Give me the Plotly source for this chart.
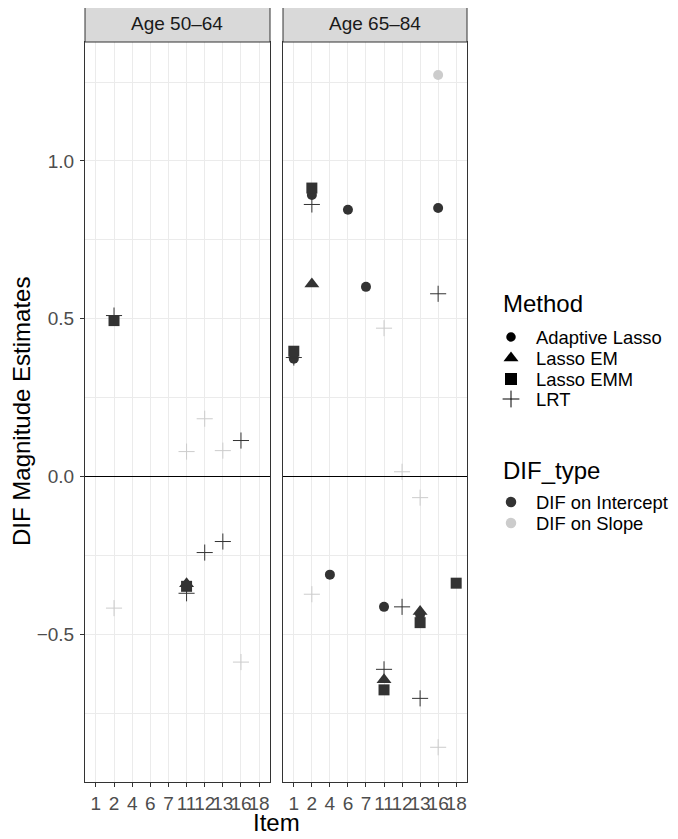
import plotly.graph_objects as go

# ---------------- data ----------------
items = ["1", "2", "4", "6", "7", "11", "12", "13", "16", "18"]
panels = ["Age 50\u201364", "Age 65\u201384"]
methods = ["Adaptive Lasso", "Lasso EM", "Lasso EMM", "LRT"]
dif_types = ["DIF on Intercept", "DIF on Slope"]

# Age 50-64
p1_item = ["2", "2", "11", "12", "13", "16", "2", "11", "11", "11", "12", "13", "16"]
p1_method = ["Lasso EMM", "LRT", "LRT", "LRT", "LRT", "LRT", "LRT",
             "Lasso EM", "Lasso EMM", "LRT", "LRT", "LRT", "LRT"]
p1_type = ["DIF on Intercept", "DIF on Intercept", "DIF on Slope", "DIF on Slope",
           "DIF on Slope", "DIF on Intercept", "DIF on Slope", "DIF on Intercept",
           "DIF on Intercept", "DIF on Intercept", "DIF on Intercept",
           "DIF on Intercept", "DIF on Slope"]
p1_value = [0.494, 0.51, 0.079, 0.183, 0.082, 0.114, -0.417, -0.34, -0.348,
            -0.37, -0.241, -0.206, -0.588]

# Age 65-84
p2_item = ["16", "2", "2", "2", "6", "16", "2", "7", "16", "11", "1", "1", "1",
           "12", "13", "2", "4", "11", "12", "13", "13", "13", "18", "11", "11",
           "11", "13", "16"]
p2_method = ["Adaptive Lasso", "Adaptive Lasso", "Lasso EMM", "LRT", "Adaptive Lasso",
             "Adaptive Lasso", "Lasso EM", "Adaptive Lasso", "LRT", "LRT",
             "Adaptive Lasso", "Lasso EMM", "LRT", "LRT", "LRT", "LRT",
             "Adaptive Lasso", "Adaptive Lasso", "LRT", "Adaptive Lasso", "Lasso EM",
             "Lasso EMM", "Lasso EMM", "LRT", "Lasso EM", "Lasso EMM", "LRT", "LRT"]
p2_type = ["DIF on Slope", "DIF on Intercept", "DIF on Intercept", "DIF on Intercept",
           "DIF on Intercept", "DIF on Intercept", "DIF on Intercept",
           "DIF on Intercept", "DIF on Intercept", "DIF on Slope",
           "DIF on Intercept", "DIF on Intercept", "DIF on Intercept",
           "DIF on Slope", "DIF on Slope", "DIF on Slope", "DIF on Intercept",
           "DIF on Intercept", "DIF on Intercept", "DIF on Intercept",
           "DIF on Intercept", "DIF on Intercept", "DIF on Intercept",
           "DIF on Intercept", "DIF on Intercept", "DIF on Intercept",
           "DIF on Intercept", "DIF on Slope"]
p2_value = [1.272, 0.892, 0.914, 0.862, 0.845, 0.851, 0.61, 0.601, 0.579, 0.47,
            0.373, 0.397, 0.377, 0.015, -0.067, -0.373, -0.311, -0.413, -0.413,
            -0.437, -0.428, -0.463, -0.338, -0.611, -0.644, -0.676, -0.703, -0.858]

y_tickvals = [-0.5, 0.0, 0.5, 1.0]
y_ticktext = ["\u22120.5", "0.0", "0.5", "1.0"]
y_minor = [-0.75, -0.25, 0.25, 0.75, 1.25]

# ---------------- styles ----------------
FONT = "Liberation Sans, Arial, sans-serif"
SMALL = 19
LEGEND_TXT = 18.4
TITLE = 24
type_color = {"DIF on Intercept": "#333333", "DIF on Slope": "#CCCCCC"}
method_symbol = {"Adaptive Lasso": "circle", "Lasso EM": "triangle-up",
                 "Lasso EMM": "square", "LRT": "cross-thin-open"}
method_size = {"Adaptive Lasso": 10, "Lasso EM": 13, "Lasso EMM": 11, "LRT": 11.5}

# page body has an 8px margin; positions below are given in screen pixels
OFF = 8
W, H = 670, 831
px = lambda v: (v - OFF) / W
py = lambda v: 1 - (v - OFF) / H

fig = go.Figure()

panel_data = [
    (p1_item, p1_method, p1_type, p1_value, "x", "y"),
    (p2_item, p2_method, p2_type, p2_value, "x2", "y2"),
]

for items_, meth_, typ_, val_, xa, ya in panel_data:
    for t in reversed(dif_types):
        for m in methods:
            xs = [it for it, mm, tt in zip(items_, meth_, typ_) if mm == m and tt == t]
            ys = [v for v, mm, tt in zip(val_, meth_, typ_) if mm == m and tt == t]
            if not xs:
                continue
            fig.add_trace(go.Scatter(
                x=xs, y=ys, mode="markers", xaxis=xa, yaxis=ya, showlegend=False,
                hoverinfo="skip",
                marker=dict(symbol=method_symbol[m], size=method_size[m],
                            color=type_color[t],
                            line=dict(width=1 if m == "LRT" else 0,
                                      color=type_color[t])),
            ))

# ---------------- manual legend (overlay axis in screen pixels) ----------------
leg_marker_x = 511
leg_text_x = 533.5
method_leg_y = [337, 358, 379, 399]
method_leg_size = {"Adaptive Lasso": 9.5, "Lasso EM": 13, "Lasso EMM": 12, "LRT": 12}
type_leg_y = [502, 523]

for m, yy in zip(methods, method_leg_y):
    fig.add_trace(go.Scatter(
        x=[leg_marker_x], y=[yy], mode="markers", xaxis="x3", yaxis="y3",
        showlegend=False, hoverinfo="skip",
        marker=dict(symbol=method_symbol[m], size=method_leg_size[m], color="black",
                    line=dict(width=1 if m == "LRT" else 0, color="black")),
    ))
    fig.add_annotation(text=m, xref="paper", yref="paper", x=px(leg_text_x), y=py(yy),
                       xanchor="left", yanchor="middle", showarrow=False,
                       font=dict(family=FONT, size=LEGEND_TXT, color="black"))
for t, yy in zip(dif_types, type_leg_y):
    fig.add_trace(go.Scatter(
        x=[leg_marker_x], y=[yy], mode="markers", xaxis="x3", yaxis="y3",
        showlegend=False, hoverinfo="skip",
        marker=dict(symbol="circle", size=10.5, color=type_color[t]),
    ))
    fig.add_annotation(text=t, xref="paper", yref="paper", x=px(leg_text_x), y=py(yy),
                       xanchor="left", yanchor="middle", showarrow=False,
                       font=dict(family=FONT, size=LEGEND_TXT, color="black"))
fig.add_annotation(text="Method", xref="paper", yref="paper", x=px(501), y=py(303),
                   xanchor="left", yanchor="middle", showarrow=False,
                   font=dict(family=FONT, size=TITLE, color="black"))
fig.add_annotation(text="DIF_type", xref="paper", yref="paper", x=px(501), y=py(470),
                   xanchor="left", yanchor="middle", showarrow=False,
                   font=dict(family=FONT, size=TITLE, color="black"))

x_dom1 = [px(85), px(270)]
x_dom2 = [px(283), px(467)]
y_dom = [py(782), py(42)]

xaxis_common = dict(
    type="category", categoryorder="array", categoryarray=items,
    range=[-0.6, len(items) - 0.4], tickmode="array", tickvals=items, ticktext=items,
    tickangle=0,
    showgrid=True, gridcolor="#EBEBEB", gridwidth=1,
    ticks="outside", ticklen=4, tickwidth=1, tickcolor="#333333",
    tickfont=dict(family=FONT, size=SMALL, color="#4D4D4D"),
    showline=True, mirror=True, linecolor="#333333", linewidth=1,
    zeroline=False, fixedrange=True,
)
yaxis_common = dict(
    range=[-0.968, 1.3768], tickmode="array", tickvals=y_tickvals, ticktext=y_ticktext,
    showgrid=True, gridcolor="#EBEBEB", gridwidth=1,
    minor=dict(tickvals=y_minor, showgrid=True, gridcolor="#EBEBEB", gridwidth=0.55),
    showline=True, mirror=True, linecolor="#333333", linewidth=1, zeroline=False,
    domain=y_dom, fixedrange=True,
)

fig.update_layout(
    width=W, height=H, autosize=False,
    margin=dict(l=0, r=0, t=0, b=0),
    paper_bgcolor="white", plot_bgcolor="rgba(0,0,0,0)",
    font=dict(family=FONT, color="black"),
    showlegend=False,
    xaxis=dict(xaxis_common, domain=x_dom1, anchor="y"),
    xaxis2=dict(xaxis_common, domain=x_dom2, anchor="y2"),
    yaxis=dict(yaxis_common, anchor="x", ticks="outside", ticklen=4, tickwidth=1,
               tickcolor="#333333", ticklabelstandoff=2,
               tickfont=dict(family=FONT, size=SMALL, color="#4D4D4D")),
    yaxis2=dict(yaxis_common, anchor="x2", showticklabels=False, ticks=""),
    xaxis3=dict(domain=[0, 1], range=[OFF, OFF + W], visible=False, fixedrange=True,
                anchor="y3"),
    yaxis3=dict(domain=[0, 1], range=[OFF + H, OFF], visible=False, fixedrange=True,
                anchor="x3"),
)

# zero reference lines
for xa, ya in [("x", "y"), ("x2", "y2")]:
    fig.add_shape(type="line", xref=f"{xa} domain", yref=ya, x0=0, x1=1, y0=0, y1=0,
                  line=dict(color="black", width=1), layer="above")

# strips
for (x0, x1), label in zip([x_dom1, x_dom2], panels):
    fig.add_shape(type="rect", xref="paper", yref="paper", x0=x0, x1=x1,
                  y0=py(42), y1=py(5), fillcolor="#D9D9D9",
                  line=dict(color="#333333", width=1))
    fig.add_annotation(text=label, xref="paper", yref="paper", x=(x0 + x1) / 2,
                       y=py(23.5), showarrow=False, xanchor="center", yanchor="middle",
                       font=dict(family=FONT, size=SMALL, color="#1A1A1A"))

# axis titles
fig.add_annotation(text="DIF Magnitude Estimates", xref="paper", yref="paper",
                   x=px(22), y=py(412), textangle=-90, showarrow=False,
                   xanchor="center", yanchor="middle",
                   font=dict(family=FONT, size=TITLE, color="black"))
fig.add_annotation(text="Item", xref="paper", yref="paper",
                   x=px(276), y=py(822), showarrow=False,
                   xanchor="center", yanchor="middle",
                   font=dict(family=FONT, size=TITLE, color="black"))

fig.write_html("out.html")
